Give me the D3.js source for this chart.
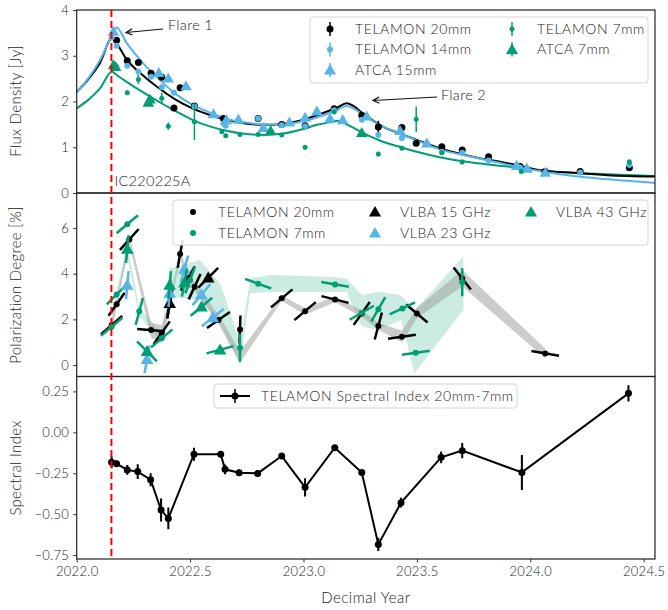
<!DOCTYPE html>
<html>
<head>
<meta charset="utf-8">
<script src="https://cdn.jsdelivr.net/npm/d3@7"></script>
<style>
  body { margin: 0; background: #fff; }
  svg text { font-family: Lato, "Noto Sans", sans-serif; font-weight: 300; fill: #1a1a1a; }
</style>
</head>
<body>
<svg id="chart" width="668" height="610"></svg>
<script>
// ---- data ----
const xTicks = [2022.0, 2022.5, 2023.0, 2023.5, 2024.0, 2024.5];
const fluxTicks = [0, 1, 2, 3, 4];
const polTicks = [0, 2, 4, 6];
const idxTicks = [-0.75, -0.5, -0.25, 0, 0.25];
const eventYear = 2022.153;

// fitted light curves
const fitX  = [2022.00, 2022.05, 2022.10, 2022.156, 2022.176, 2022.22, 2022.29, 2022.36, 2022.44, 2022.51, 2022.59, 2022.66, 2022.73, 2022.83, 2022.91, 2023.00, 2023.06, 2023.13, 2023.15, 2023.19, 2023.28, 2023.35, 2023.43, 2023.50, 2023.60, 2023.75, 2023.90, 2024.04, 2024.19, 2024.34, 2024.55];
const fit20 = [2.21, 2.48, 2.82, 3.38, 3.27, 2.92, 2.58, 2.30, 2.03, 1.85, 1.70, 1.60, 1.53, 1.49, 1.51, 1.60, 1.70, 1.83, 1.87, 1.96, 1.67, 1.45, 1.29, 1.16, 0.98, 0.79, 0.65, 0.50, 0.44, 0.39, 0.36];
const fit14 = [2.20, 2.50, 2.88, 3.45, 3.62, 3.28, 2.85, 2.50, 2.15, 1.93, 1.75, 1.62, 1.55, 1.50, 1.50, 1.57, 1.65, 1.78, 1.82, 1.90, 1.65, 1.45, 1.29, 1.15, 0.96, 0.78, 0.62, 0.48, 0.37, 0.30, 0.22];
const fit7  = [1.85, 2.03, 2.27, 2.65, 2.58, 2.43, 2.21, 2.00, 1.78, 1.60, 1.45, 1.36, 1.30, 1.27, 1.30, 1.40, 1.49, 1.56, 1.58, 1.50, 1.27, 1.12, 1.00, 0.90, 0.78, 0.66, 0.58, 0.50, 0.44, 0.41, 0.37];

// flux density [year, Jy, err]
const telamon20 = [
  [2022.176, 3.34, 0.05], [2022.223, 2.89, 0.04], [2022.272, 2.85, 0.04], [2022.328, 2.62, 0.04],
  [2022.375, 2.53, 0.04], [2022.429, 1.86, 0.04], [2022.456, 2.30, 0.05], [2022.519, 1.90, 0.04],
  [2022.647, 1.63, 0.04], [2022.80, 1.63, 0.03], [2022.904, 1.50, 0.03], [2023.007, 1.47, 0.03],
  [2023.135, 1.84, 0.03], [2023.257, 1.70, 0.03], [2023.33, 1.44, 0.14], [2023.434, 1.43, 0.04],
  [2023.497, 1.09, 0.04], [2023.61, 1.01, 0.03], [2023.70, 0.94, 0.03], [2023.816, 0.79, 0.03],
  [2023.955, 0.58, 0.03], [2024.065, 0.47, 0.02], [2024.22, 0.47, 0.02], [2024.437, 0.55, 0.03]
];
const telamon14 = [
  [2022.154, 3.40, 0.04], [2022.176, 3.22, 0.04], [2022.223, 2.78, 0.04], [2022.272, 2.65, 0.04],
  [2022.328, 2.54, 0.04], [2022.375, 2.31, 0.04], [2022.429, 2.19, 0.04], [2022.519, 1.89, 0.04],
  [2022.647, 1.52, 0.04], [2022.657, 1.47, 0.04], [2022.80, 1.63, 0.03], [2022.904, 1.48, 0.03],
  [2023.007, 1.46, 0.03], [2023.135, 1.81, 0.03], [2023.257, 1.60, 0.03], [2023.33, 1.27, 0.06],
  [2023.434, 1.20, 0.04], [2023.61, 0.90, 0.03], [2023.70, 0.88, 0.03], [2023.816, 0.71, 0.03],
  [2023.955, 0.56, 0.03], [2024.22, 0.45, 0.02], [2024.437, 0.61, 0.03]
];
const atca15 = [
  [2022.162, 3.53, 0.04], [2022.362, 2.63, 0.04], [2022.404, 2.51, 0.05], [2022.482, 2.34, 0.05],
  [2022.603, 1.73, 0.04], [2022.66, 1.60, 0.04], [2022.713, 1.61, 0.04], [2022.823, 1.43, 0.03],
  [2022.938, 1.55, 0.03], [2023.007, 1.65, 0.03], [2023.059, 1.79, 0.03], [2023.117, 1.63, 0.03],
  [2023.173, 1.60, 0.03], [2023.279, 1.68, 0.03], [2023.426, 1.36, 0.03], [2023.544, 1.09, 0.03],
  [2023.94, 0.60, 0.02], [2023.985, 0.54, 0.02], [2024.066, 0.45, 0.02]
];
const telamon7 = [
  [2022.176, 2.76, 0.05], [2022.223, 2.19, 0.05], [2022.272, 2.48, 0.10], [2022.375, 2.07, 0.12],
  [2022.404, 1.46, 0.08], [2022.519, 1.56, 0.40], [2022.64, 1.34, 0.04], [2022.657, 1.25, 0.05],
  [2022.72, 1.28, 0.04], [2022.80, 1.28, 0.03], [2022.904, 1.27, 0.04], [2023.007, 1.00, 0.05],
  [2023.135, 1.77, 0.04], [2023.33, 0.85, 0.05], [2023.434, 0.98, 0.03], [2023.497, 1.61, 0.28],
  [2023.61, 0.88, 0.03], [2023.70, 0.68, 0.05], [2023.96, 0.47, 0.03], [2024.437, 0.68, 0.06]
];
const atca7 = [
  [2022.162, 2.80, 0.04], [2022.172, 2.76, 0.04], [2022.316, 1.98, 0.04], [2022.323, 2.05, 0.04],
  [2022.855, 1.36, 0.03], [2023.257, 1.32, 0.03]
];

// polarization degree [year, %, EVPA angle in degrees]
const pol20 = [
  [2022.154, 1.75, 41], [2022.176, 2.66, 55], [2022.232, 5.50, 48], [2022.328, 1.53, -5],
  [2022.375, 1.41, 55], [2022.41, 2.63, 80], [2022.456, 4.86, 80], [2022.49, 3.79, 60],
  [2022.52, 3.43, 65], [2022.625, 1.97, 35], [2022.72, 1.56, 88], [2022.904, 2.92, 40],
  [2023.007, 2.36, 40], [2023.139, 2.87, -14], [2023.257, 2.26, 55], [2023.33, 1.71, 75],
  [2023.434, 1.24, 8], [2023.5, 2.26, -40], [2023.70, 3.79, -52], [2024.066, 0.51, -10]
];
const pol7 = [
  [2022.154, 1.68, 40], [2022.176, 3.09, 45], [2022.223, 6.16, 40], [2022.276, 2.35, 75],
  [2022.375, 1.17, 40], [2022.50, 3.72, 70], [2022.72, 0.76, 90], [2022.80, 3.56, -20],
  [2023.139, 3.53, -10], [2023.257, 2.29, 30], [2023.33, 2.44, 60], [2023.436, 2.48, 25],
  [2023.495, 0.54, 8], [2023.70, 3.62, 90]
];
const vlba15 = [[2022.41, 2.70, 80], [2022.58, 3.82, 45]];
const vlba23 = [
  [2022.223, 3.50, 85], [2022.31, 0.25, 80], [2022.41, 3.15, 85], [2022.475, 4.20, 75],
  [2022.55, 3.08, 50], [2022.60, 2.08, 38]
];
const vlba43 = [
  [2022.223, 5.08, 85], [2022.31, 0.60, -45], [2022.41, 3.50, 85], [2022.475, 3.60, 80],
  [2022.55, 2.55, 40], [2022.632, 0.67, 15]
];
// shaded envelopes
const bandGreyX  = [2022.154, 2022.176, 2022.232, 2022.328, 2022.375, 2022.41, 2022.456, 2022.49, 2022.52, 2022.625, 2022.72, 2022.904, 2023.007, 2023.139, 2023.257, 2023.33, 2023.434, 2023.5, 2023.70, 2024.066];
const bandGreyLo = [1.55, 2.50, 5.30, 1.20, 0.95, 2.45, 4.65, 3.60, 3.25, 1.80, 0.10, 2.80, 2.20, 2.75, 2.10, 1.55, 1.00, 2.05, 3.45, 0.30];
const bandGreyHi = [1.95, 2.85, 5.70, 1.85, 1.75, 2.80, 5.05, 4.00, 3.60, 2.20, 0.60, 3.05, 2.50, 3.00, 2.40, 1.85, 1.50, 2.50, 4.15, 0.72];
const bandGreenX  = [2022.154, 2022.176, 2022.223, 2022.276, 2022.375, 2022.41, 2022.544, 2022.632, 2022.66, 2022.72, 2022.765, 2022.853, 2023.14, 2023.19, 2023.257, 2023.33, 2023.43, 2023.49, 2023.705];
const bandGreenLo = [1.45, 2.80, 4.70, 2.15, 1.00, 3.00, 2.84, 1.90, 1.24, 0.00, 3.14, 3.20, 3.20, 3.21, 1.68, 1.55, 1.97, -0.36, 2.41];
const bandGreenHi = [1.90, 3.30, 5.30, 2.50, 1.40, 4.23, 4.60, 3.57, 2.80, 0.95, 3.80, 3.94, 3.85, 3.79, 3.06, 3.21, 3.06, 2.41, 4.74];

// spectral index
const idxX   = [2022.154, 2022.176, 2022.223, 2022.269, 2022.326, 2022.372, 2022.404, 2022.517, 2022.635, 2022.654, 2022.716, 2022.798, 2022.904, 2023.007, 2023.138, 2023.257, 2023.33, 2023.43, 2023.607, 2023.70, 2023.963, 2024.433];
const idxVal = [-0.183, -0.192, -0.23, -0.24, -0.29, -0.475, -0.526, -0.134, -0.134, -0.226, -0.247, -0.251, -0.145, -0.336, -0.094, -0.245, -0.685, -0.43, -0.153, -0.112, -0.245, 0.238];
const idxErr = [0.036, 0.02, 0.03, 0.045, 0.04, 0.07, 0.066, 0.04, 0.02, 0.03, 0.02, 0.02, 0.012, 0.056, 0.015, 0.015, 0.04, 0.03, 0.036, 0.046, 0.107, 0.05];

// ---- layout ----
const black = "#000", blue = "#56B4E9", green = "#009E73";
const svg = d3.select("#chart");
const left = 76.7, right = 655;
const x = d3.scaleLinear().domain([2022.0, 2024.55]).range([left, right]);
const yF = d3.scaleLinear().domain([0, 4]).range([193, 10]);
const yP = d3.scaleLinear().domain([-0.5, 7.53]).range([376.5, 193]);
const yS = d3.scaleLinear().domain([-0.774, 0.341]).range([559, 376.5]);

function clip(id, y) {
  svg.append("clipPath").attr("id", id).append("rect")
    .attr("x", left).attr("y", y.range()[1]).attr("width", right - left)
    .attr("height", y.range()[0] - y.range()[1]);
  return svg.append("g").attr("clip-path", `url(#${id})`);
}
const gF = clip("cf", yF), gP = clip("cp", yP), gS = clip("cs", yS);

const tri = d3.symbol(d3.symbolTriangle);

function errbars(g, data, y, color, w) {
  g.selectAll(null).data(data).join("line")
    .attr("x1", d => x(d[0])).attr("x2", d => x(d[0]))
    .attr("y1", d => y(d[1] - d[2])).attr("y2", d => y(d[1] + d[2]))
    .attr("stroke", color).attr("stroke-width", w);
}
function dots(g, data, y, color, r) {
  g.selectAll(null).data(data).join("circle")
    .attr("cx", d => x(d[0])).attr("cy", d => y(d[1])).attr("r", r).attr("fill", color);
}
function tris(g, data, y, color, size) {
  g.selectAll(null).data(data).join("path")
    .attr("d", tri.size(size)())
    .attr("transform", d => `translate(${x(d[0])},${y(d[1]) + 1})`)
    .attr("fill", color);
}

// ---- flux density panel ----
const fitLine = vals => d3.line().curve(d3.curveMonotoneX)
  .x((d, i) => x(fitX[i])).y(d => yF(d))(vals);
[[fit7, green], [fit20, black], [fit14, blue]].forEach(([v, c]) => {
  gF.append("path").attr("d", fitLine(v)).attr("fill", "none")
    .attr("stroke", c).attr("stroke-width", 2);
});
errbars(gF, telamon20, yF, black, 1.5); dots(gF, telamon20, yF, black, 3.5);
errbars(gF, telamon14, yF, blue, 1.5); dots(gF, telamon14, yF, blue, 3);
errbars(gF, atca15, yF, blue, 1.5); tris(gF, atca15, yF, blue, 58);
errbars(gF, telamon7, yF, green, 1.5); dots(gF, telamon7, yF, green, 2.5);
errbars(gF, atca7, yF, green, 1.5); tris(gF, atca7, yF, green, 58);

// ---- polarization panel ----
const bandArea = (xs, lo, hi) => d3.area()
  .x((d, i) => x(xs[i])).y0((d, i) => yP(lo[i])).y1((d, i) => yP(hi[i]))(xs);
gP.append("path").attr("d", bandArea(bandGreenX, bandGreenLo, bandGreenHi))
  .attr("fill", green).attr("fill-opacity", 0.2);
gP.append("path").attr("d", bandArea(bandGreyX, bandGreyLo, bandGreyHi))
  .attr("fill", "#999").attr("fill-opacity", 0.5);

function evpa(g, data, color) {
  const half = 14;
  g.selectAll(null).data(data).join("line")
    .attr("x1", d => x(d[0]) - half * Math.cos(d[2] * Math.PI / 180))
    .attr("y1", d => yP(d[1]) + half * Math.sin(d[2] * Math.PI / 180))
    .attr("x2", d => x(d[0]) + half * Math.cos(d[2] * Math.PI / 180))
    .attr("y2", d => yP(d[1]) - half * Math.sin(d[2] * Math.PI / 180))
    .attr("stroke", color).attr("stroke-width", 2.5);
}
evpa(gP, pol20, black); dots(gP, pol20, yP, black, 3);
evpa(gP, pol7, green); dots(gP, pol7, yP, green, 3);
evpa(gP, vlba15, black); tris(gP, vlba15, yP, black, 70);
evpa(gP, vlba23, blue); tris(gP, vlba23, yP, blue, 70);
evpa(gP, vlba43, green); tris(gP, vlba43, yP, green, 70);

// ---- spectral index panel ----
const idxData = idxX.map((d, i) => [d, idxVal[i], idxErr[i]]);
gS.append("path").attr("d", d3.line().x(d => x(d[0])).y(d => yS(d[1]))(idxData))
  .attr("fill", "none").attr("stroke", black).attr("stroke-width", 2);
errbars(gS, idxData, yS, black, 2); dots(gS, idxData, yS, black, 3.5);

// ---- axes ----
function styleAxis(g) {
  g.select(".domain").remove();
  g.selectAll("text").attr("font-size", 13).attr("letter-spacing", 0.3)
    .style("font-family", "Lato, sans-serif").style("font-weight", 300);
  g.selectAll("line").attr("stroke", "#333");
}
function yAxis(y, ticks, fmt) {
  const g = svg.append("g").attr("transform", `translate(${left},0)`)
    .call(d3.axisLeft(y).tickValues(ticks).tickFormat(fmt).tickSize(3.5).tickPadding(4));
  styleAxis(g);
}
yAxis(yF, fluxTicks, d3.format("d"));
yAxis(yP, polTicks, d3.format("d"));
yAxis(yS, idxTicks, d3.format(".2f"));
const xa = svg.append("g").attr("transform", "translate(0,559)")
  .call(d3.axisBottom(x).tickValues(xTicks).tickFormat(d3.format(".1f")).tickSize(3.5).tickPadding(4));
styleAxis(xa);

[yF, yP, yS].forEach(y => {
  svg.append("rect").attr("x", left).attr("y", y.range()[1])
    .attr("width", right - left).attr("height", y.range()[0] - y.range()[1])
    .attr("fill", "none").attr("stroke", "#222").attr("stroke-width", 1.2);
});

// axis titles
const ylab = (txt, cy) => svg.append("text")
  .attr("transform", `translate(21,${cy}) rotate(-90)`)
  .attr("text-anchor", "middle").attr("font-size", 15).attr("letter-spacing", 0.3).text(txt);
ylab("Flux Density [Jy]", 101);
ylab("Polarization Degree [%]", 285);
ylab("Spectral Index", 468);
svg.append("text").attr("x", (left + right) / 2).attr("y", 603)
  .attr("text-anchor", "middle").attr("font-size", 15).attr("letter-spacing", 0.5).text("Decimal Year");

// event line
svg.append("line").attr("x1", x(eventYear)).attr("x2", x(eventYear))
  .attr("y1", 10).attr("y2", 559).attr("stroke", "red")
  .attr("stroke-width", 2).attr("stroke-dasharray", "7,4");
svg.append("text").attr("x", x(eventYear) + 3).attr("y", 186)
  .attr("font-size", 14.5).attr("letter-spacing", 0.3).text("IC220225A");

// flare annotations
function arrow(x1, y1, x2, y2) {
  const a = Math.atan2(y2 - y1, x2 - x1), h = 7;
  const p = d3.path();
  p.moveTo(x1, y1); p.lineTo(x2, y2);
  p.moveTo(x2 - h * Math.cos(a - 0.45), y2 - h * Math.sin(a - 0.45));
  p.lineTo(x2, y2);
  p.lineTo(x2 - h * Math.cos(a + 0.45), y2 - h * Math.sin(a + 0.45));
  svg.append("path").attr("d", p.toString()).attr("fill", "none")
    .attr("stroke", "#111").attr("stroke-width", 1.2);
}
arrow(163, 29, 126, 32.5);
svg.append("text").attr("x", 168).attr("y", 30).attr("font-size", 14.5).attr("letter-spacing", 0.3).text("Flare 1");
arrow(437, 97, 373, 100.5);
svg.append("text").attr("x", 441).attr("y", 100).attr("font-size", 14.5).attr("letter-spacing", 0.3).text("Flare 2");

// ---- legends ----
function legendBox(x0, y0, w, h) {
  svg.append("rect").attr("x", x0).attr("y", y0).attr("width", w).attr("height", h)
    .attr("rx", 3).attr("fill", "#fff").attr("fill-opacity", 0.85)
    .attr("stroke", "#d5d5d5").attr("stroke-width", 1);
}
function legendItem(mx, ty, label, kind, color, bar) {
  const g = svg.append("g");
  if (bar) g.append("line").attr("x1", mx).attr("x2", mx).attr("y1", ty - 7).attr("y2", ty + 7)
    .attr("stroke", color).attr("stroke-width", 1.5);
  if (kind === "line") {
    g.append("line").attr("x1", mx - 15).attr("x2", mx + 15).attr("y1", ty).attr("y2", ty)
      .attr("stroke", color).attr("stroke-width", 2);
    g.append("circle").attr("cx", mx).attr("cy", ty).attr("r", 3.5).attr("fill", color);
  } else if (kind === "tri") {
    g.append("path").attr("d", tri.size(64)()).attr("transform", `translate(${mx},${ty + 1})`).attr("fill", color);
  } else {
    g.append("circle").attr("cx", mx).attr("cy", ty).attr("r", kind).attr("fill", color);
  }
  svg.append("text").attr("x", mx + (kind === "line" ? 26 : 25)).attr("y", ty)
    .attr("dy", "0.35em").attr("font-size", 14).attr("letter-spacing", 0.6).text(label);
}
legendBox(310, 17, 338, 66);
legendItem(330, 29, "TELAMON 20mm", 3.5, black, true);
legendItem(330, 49.5, "TELAMON 14mm", 3, blue, true);
legendItem(330, 70, "ATCA 15mm", "tri", blue, true);
legendItem(512, 29, "TELAMON 7mm", 2.5, green, true);
legendItem(512, 49.5, "ATCA 7mm", "tri", green, true);

legendBox(173, 200, 475, 45);
legendItem(193, 212, "TELAMON 20mm", 3, black, false);
legendItem(193, 233, "TELAMON 7mm", 3, green, false);
legendItem(375, 212, "VLBA 15 GHz", "tri", black, false);
legendItem(375, 233, "VLBA 23 GHz", "tri", blue, false);
legendItem(531, 212, "VLBA 43 GHz", "tri", green, false);

legendBox(214, 384, 303, 24);
legendItem(235, 396, "TELAMON Spectral Index 20mm-7mm", "line", black, true);
</script>
</body>
</html>
